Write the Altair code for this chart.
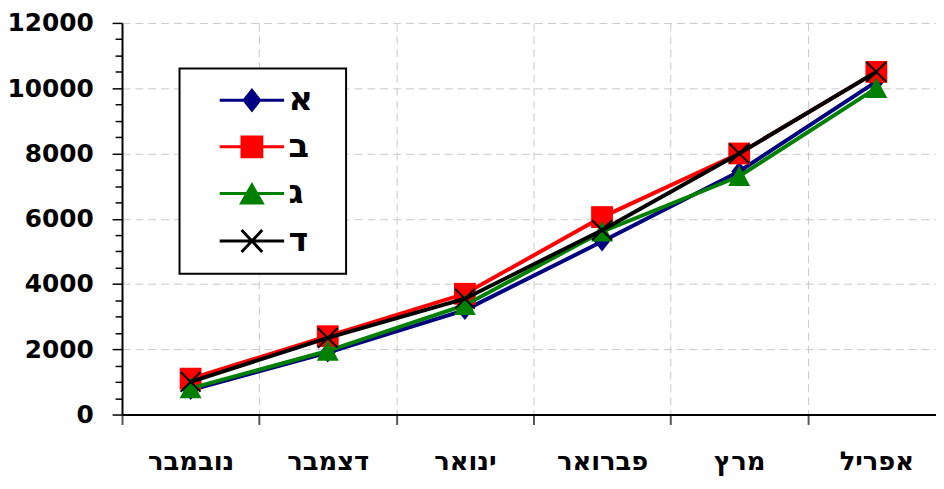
import altair as alt
import pandas as pd

months = ["נובמבר", "דצמבר", "ינואר", "פברואר", "מרץ", "אפריל"]
series_names = ["א", "ב", "ג", "ד"]
values_a = [750, 1900, 3200, 5300, 7450, 10200]
values_b = [1100, 2400, 3700, 6050, 8000, 10500]
values_g = [800, 1950, 3350, 5600, 7300, 10000]
values_d = [1000, 2350, 3550, 5650, 8000, 10500]
y_ticks = list(range(0, 12001, 500))

colors = ["#000080", "#FF0000", "#008000", "#000000"]

all_values = [values_a, values_b, values_g, values_d]
rows = []
for s, vals in zip(series_names, all_values):
    for m, v in zip(months, vals):
        rows.append({"month": m, "series": s, "value": v})
df = pd.DataFrame(rows)

FONT = "DejaVu Sans"

x_enc = alt.X(
    "month:N",
    sort=months,
    scale=alt.Scale(type="band", domain=months, range=[0, 830], paddingInner=0, paddingOuter=0),
    axis=alt.Axis(
        title=None,
        labelAngle=0,
        labelFont=FONT,
        labelFontWeight="bold",
        labelFontSize=26,
        labelColor="#000000",
        labelPadding=24,
        tickBand="extent",
        tickSize=10,
        tickColor="#555555",
        tickWidth=2,
        domainColor="#000000",
        domainWidth=2,
        grid=True,
        gridColor="#c8c8c8",
        gridDash=[8, 5],
        gridWidth=1,
    ),
)

y_enc = alt.Y(
    "value:Q",
    scale=alt.Scale(domain=[0, 12000], nice=False),
    axis=alt.Axis(
        title=None,
        values=y_ticks,
        format="d",
        labelExpr="datum.value % 2000 === 0 ? datum.label : ''",
        labelFont=FONT,
        labelFontWeight="bold",
        labelFontSize=25,
        labelColor="#000000",
        labelPadding=19,
        tickSize={"condition": {"test": "datum.value % 2000 === 0", "value": 10}, "value": 7},
        tickColor="#000000",
        tickWidth=1.5,
        domainColor="#000000",
        domainWidth=2,
        grid=True,
        gridColor="#c8c8c8",
        gridDash=[8, 5],
        gridWidth=1,
        gridOpacity={"condition": {"test": "datum.value % 2000 === 0 && datum.value > 0", "value": 1}, "value": 0},
    ),
)

marker_shapes = [
    "M-0.8,0L0,-1L0.8,0L0,1Z",
    "square",
    "M0,-1L1,0.9L-1,0.9Z",
    "M-1,-1L1,1M-1,1L1,-1",
]
marker_sizes = [400, 484, 484, 400]

layers = []
for i, s in enumerate(series_names):
    sub = alt.Chart(df).transform_filter(alt.datum.series == s)
    layers.append(
        sub.mark_line(color=colors[i], strokeWidth=4).encode(x=x_enc, y=y_enc)
    )
    if i == 3:
        pt = sub.mark_point(shape=marker_shapes[i], size=marker_sizes[i], filled=False,
                            color=colors[i], strokeWidth=2, opacity=1)
    else:
        pt = sub.mark_point(shape=marker_shapes[i], size=marker_sizes[i], filled=True,
                            color=colors[i], opacity=1)
    layers.append(pt.encode(x=x_enc, y=y_enc))

legend_paths = [
    "M-2.5,0H2.5M-0.6,0L0,-0.77L0.6,0L0,0.77Z",
    "M-2.5,0H2.5M-0.77,-0.77H0.77V0.77H-0.77Z",
    "M-2.5,0H2.5M0,-0.65L0.8,0.75L-0.8,0.75Z",
    "M-2.5,0H2.5M-0.8,-0.85L0.8,0.85M-0.8,0.85L0.8,-0.85",
]

leg = alt.Legend(
    title="x",
    titleOrient="right",
    titleOpacity=0,
    titleFontSize=10,
    titlePadding=12,
    orient="none",
    legendX=58,
    legendY=46,
    padding=15,
    strokeColor="#000000",
    fillColor="#ffffff",
    labelFont=FONT,
    labelFontWeight="bold",
    labelFontSize=34,
    labelColor="#000000",
    labelOffset=20,
    symbolOffset=41,
    symbolSize=676,
    symbolStrokeWidth=3,
    symbolOpacity=1,
    rowPadding=13,
)

legend_layer = alt.Chart(df).transform_filter("false").mark_point(opacity=1, filled=True).encode(
    x=x_enc,
    y=y_enc,
    fill=alt.Fill("series:N", scale=alt.Scale(domain=series_names, range=colors), legend=leg),
    stroke=alt.Stroke("series:N", scale=alt.Scale(domain=series_names, range=colors), legend=leg),
    shape=alt.Shape("series:N", scale=alt.Scale(domain=series_names, range=legend_paths), legend=leg),
)
layers.append(legend_layer)

chart = alt.layer(*layers).properties(
    width=821,
    height=395,
    padding={"left": 115, "top": 13, "right": 0, "bottom": 67},
    autosize=alt.AutoSizeParams(type="none"),
).configure_view(stroke=None).configure_legend(strokeWidth=2)

chart.save("out.html", embed_options={"renderer": "svg", "actions": False})
